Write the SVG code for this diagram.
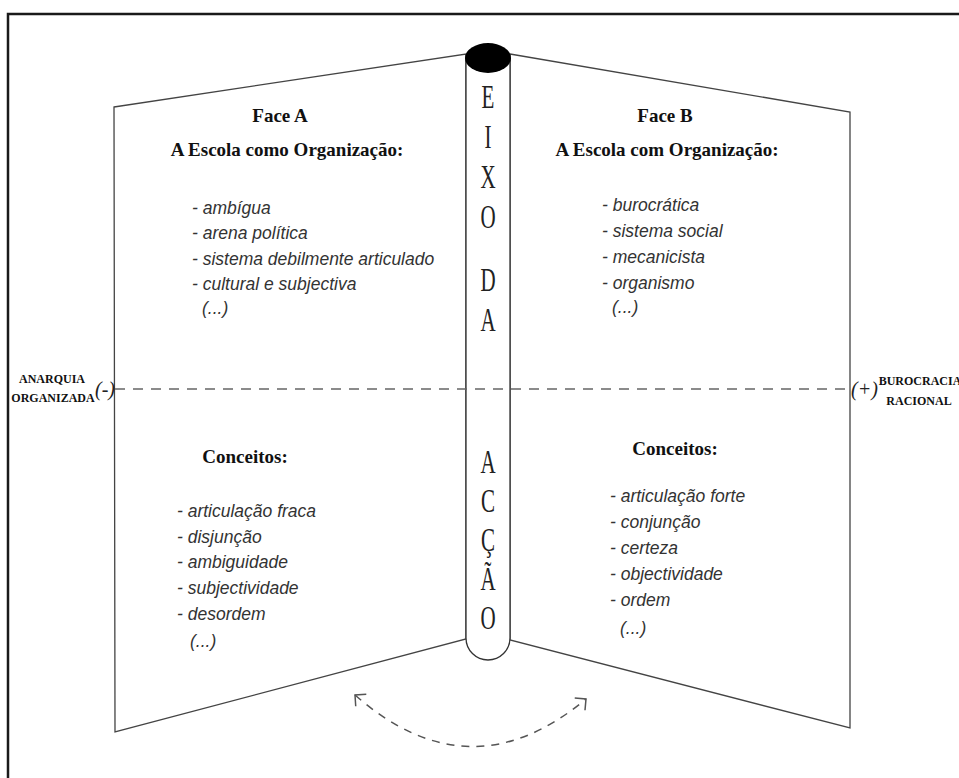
<svg xmlns="http://www.w3.org/2000/svg" width="959" height="778" viewBox="0 0 959 778">
  <style>
    .frame { fill: none; stroke: #1a1a1a; stroke-width: 2.5; }
    .panel { fill: #ffffff; stroke: #444; stroke-width: 1.3; stroke-linejoin: miter; }
    .pillar { fill: #ffffff; stroke: #333; stroke-width: 1.3; }
    .axis { fill: none; stroke: #666; stroke-width: 1.6; stroke-dasharray: 10 8; }
    .turn { fill: none; stroke: #555; stroke-width: 1.5; stroke-dasharray: 8 7; }
    .head { font-family: "Liberation Serif", "Times New Roman", serif; font-weight: bold; font-size: 19px; fill: #111; }
    .item { font-family: "Liberation Sans", Arial, sans-serif; font-style: italic; font-size: 17.5px; fill: #333; }
    .letter { font-family: "Liberation Serif", "Times New Roman", serif; font-size: 21px; fill: #222; text-anchor: middle; }
    .pole { font-family: "Liberation Serif", "Times New Roman", serif; font-weight: bold; font-size: 12px; fill: #111; text-anchor: middle; }
    .sign { font-family: "Liberation Serif", "Times New Roman", serif; font-style: italic; font-size: 20px; fill: #222; }
  </style>
  <defs>
    <marker id="chevron" markerUnits="userSpaceOnUse" markerWidth="20" markerHeight="20" refX="10" refY="10" orient="auto-start-reverse" viewBox="0 0 20 20">
      <path d="M2,2 L10,10 L2,18" fill="none" stroke="#555" stroke-width="1.5" stroke-dasharray="none"/>
    </marker>
  </defs>

  <rect width="959" height="778" fill="#ffffff"/>
  <!-- outer frame, running off the right and bottom edges -->
  <rect class="frame" x="8" y="14" width="1000" height="800"/>

  <!-- Face A: left leaf -->
  <g id="face-a">
    <polygon class="panel" points="114,107 466,54 466,639 115,732"/>
    <text class="head" x="280" y="122" text-anchor="middle">Face A</text>
    <text class="head" x="287" y="156" text-anchor="middle">A Escola como Organização:</text>
    <text class="item" x="192" y="214">- ambígua</text>
    <text class="item" x="192" y="239">- arena política</text>
    <text class="item" x="192" y="265">- sistema debilmente articulado</text>
    <text class="item" x="192" y="290">- cultural e subjectiva</text>
    <text class="item" x="202" y="314">(...)</text>
    <text class="head" x="245" y="463" text-anchor="middle">Conceitos:</text>
    <text class="item" x="177" y="517">- articulação fraca</text>
    <text class="item" x="177" y="543">- disjunção</text>
    <text class="item" x="177" y="568">- ambiguidade</text>
    <text class="item" x="177" y="594">- subjectividade</text>
    <text class="item" x="177" y="620">- desordem</text>
    <text class="item" x="190" y="647">(...)</text>
  </g>

  <!-- Face B: right leaf -->
  <g id="face-b">
    <polygon class="panel" points="510,54 850,112 850,728 510,640"/>
    <text class="head" x="665" y="122" text-anchor="middle">Face B</text>
    <text class="head" x="667" y="156" text-anchor="middle">A Escola com Organização:</text>
    <text class="item" x="602" y="211">- burocrática</text>
    <text class="item" x="602" y="237">- sistema social</text>
    <text class="item" x="602" y="263">- mecanicista</text>
    <text class="item" x="602" y="289">- organismo</text>
    <text class="item" x="612" y="313">(...)</text>
    <text class="head" x="675" y="455" text-anchor="middle">Conceitos:</text>
    <text class="item" x="610" y="502">- articulação forte</text>
    <text class="item" x="610" y="528">- conjunção</text>
    <text class="item" x="610" y="554">- certeza</text>
    <text class="item" x="610" y="580">- objectividade</text>
    <text class="item" x="610" y="606">- ordem</text>
    <text class="item" x="620" y="634">(...)</text>
  </g>

  <!-- the hinge: EIXO DA ACÇÃO -->
  <g id="eixo">
    <path class="pillar" d="M466,58 L466,638 A22,22 0 0 0 510,638 L510,58"/>
    <ellipse cx="488" cy="58" rx="23" ry="15" fill="#000"/>
    <text class="letter" transform="translate(488,108) scale(1,1.6)">E</text>
    <text class="letter" transform="translate(488,148) scale(1,1.6)">I</text>
    <text class="letter" transform="translate(488,188) scale(1,1.6)">X</text>
    <text class="letter" transform="translate(488,228) scale(1,1.6)">O</text>
    <text class="letter" transform="translate(488,291) scale(1,1.6)">D</text>
    <text class="letter" transform="translate(488,331) scale(1,1.6)">A</text>
    <text class="letter" transform="translate(488,473) scale(1,1.6)">A</text>
    <text class="letter" transform="translate(488,512) scale(1,1.6)">C</text>
    <text class="letter" transform="translate(488,551) scale(1,1.6)">Ç</text>
    <text class="letter" transform="translate(488,590) scale(1,1.6)">Ã</text>
    <text class="letter" transform="translate(488,629) scale(1,1.6)">O</text>
  </g>

  <!-- pole labels -->
  <g id="anarquia">
    <text class="pole" x="52" y="383">ANARQUIA</text>
    <text class="pole" x="53" y="402">ORGANIZADA</text>
    <text class="sign" x="95" y="396">(-)</text>
  </g>
  <g id="burocracia">
    <text class="sign" x="851" y="396">(+)</text>
    <text class="pole" x="920" y="385">BUROCRACIA</text>
    <text class="pole" x="919" y="405">RACIONAL</text>
  </g>

  <!-- connectors -->
  <g id="connectors">
    <line class="axis" x1="115" y1="389" x2="850" y2="389"/>
    <path class="turn" d="M355,695 Q470,796 586,699" marker-start="url(#chevron)" marker-end="url(#chevron)"/>
  </g>
</svg>
